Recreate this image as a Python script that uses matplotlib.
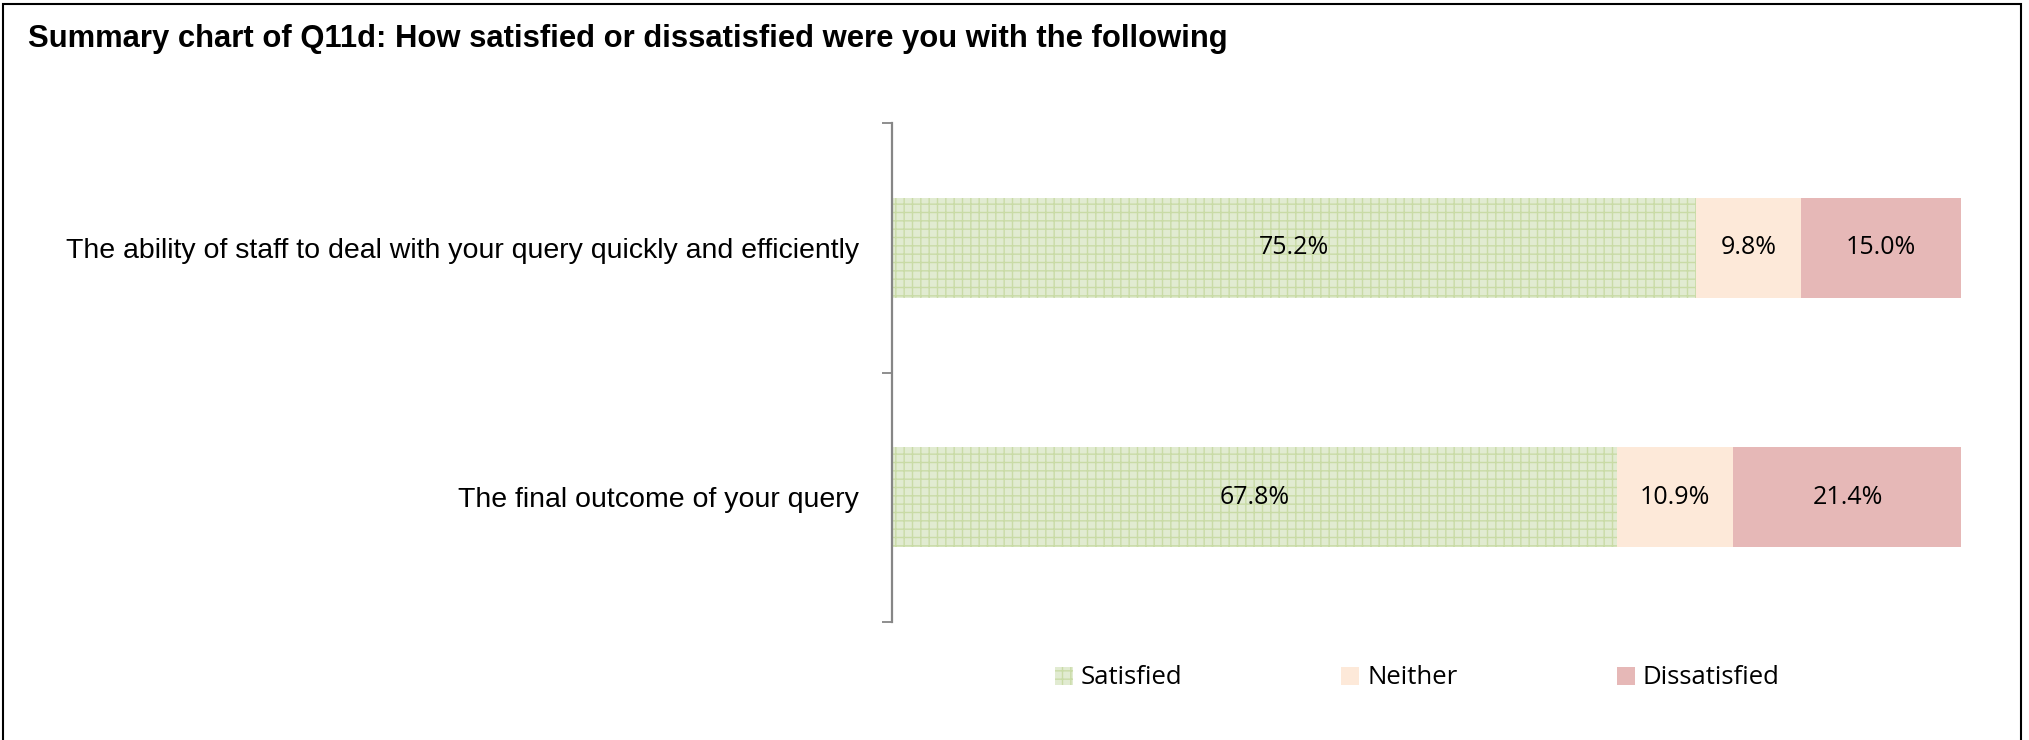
import matplotlib
matplotlib.use("Agg")
import matplotlib.pyplot as plt
from matplotlib.patches import Rectangle, Patch
from matplotlib.ticker import FixedLocator

categories = ["The ability of staff to deal with your query quickly and efficiently",
              "The final outcome of your query"]
series = ["Satisfied", "Neither", "Dissatisfied"]
satisfied = [75.2, 67.8]
neither = [9.8, 10.9]
dissatisfied = [15.0, 21.4]

W, H = 2029, 740
plt.rcParams["hatch.linewidth"] = 1.0
fig = plt.figure(figsize=(W / 100, H / 100), dpi=100)
ax = fig.add_axes([892 / W, 1 - 622 / H, (1961 - 892) / W, (622 - 123) / H])

styles = [
    dict(color="#e1ebd1", hatch="++", edgecolor="#c9dba6"),
    dict(color="#fde9d9"),
    dict(color="#e6b8b7"),
]
y = list(range(len(categories)))
left = [0] * len(categories)
for name, vals, st in zip(series, [satisfied, neither, dissatisfied], styles):
    face = st["color"]
    edge = st.get("edgecolor", face)
    bars = ax.barh(y, vals, left=left, height=0.4, facecolor=face,
                   edgecolor=edge, hatch=st.get("hatch"), linewidth=0,
                   label=name)
    for b, v in zip(bars, vals):
        ax.text(b.get_x() + b.get_width() / 2, b.get_y() + b.get_height() / 2,
                f"{v:.1f}%", ha="center", va="center", fontsize=18,
                family="Open Sans", color="black")
    left = [l + v for l, v in zip(left, vals)]

ax.set_xlim(0, 100)
ax.set_ylim(1.5, -0.5)
ax.set_yticks(y)
ax.set_yticklabels(categories, fontsize=20.5, family="Liberation Sans")
ax.tick_params(axis="y", which="major", length=0, pad=24)
ax.yaxis.set_minor_locator(FixedLocator([-0.5, 0.5, 1.5]))
ax.tick_params(axis="y", which="minor", length=7, width=1.3, color="#868686")
ax.set_xticks([])
for s in ["top", "right", "bottom"]:
    ax.spines[s].set_visible(False)
ax.spines["left"].set_color("#868686")
ax.spines["left"].set_linewidth(1.6)

fig.text(28 / W, 1 - 39 / H, "Summary chart of Q11d: How satisfied or dissatisfied were you with the following",
         fontsize=22.3, fontweight="bold", family="Liberation Sans", va="center", ha="left")

handles = [Patch(facecolor=st["color"], edgecolor=st.get("edgecolor", st["color"]),
                 hatch=st.get("hatch"), linewidth=0, label=n)
           for n, st in zip(series, styles)]
fig.legend(handles=handles, loc="center", bbox_to_anchor=(1417 / W, 1 - 678 / H),
           ncol=3, frameon=False, prop={"family": "Open Sans", "size": 18.5},
           handlelength=0.7, handleheight=0.7, handletextpad=0.3, columnspacing=6.2)

fig.patches.append(Rectangle((3 / W, -0.05), (2021 - 3) / W, 1 - 4 / H + 0.05,
                             transform=fig.transFigure, fill=False,
                             edgecolor="black", linewidth=1.5))

fig.savefig("out.png", dpi=100)
